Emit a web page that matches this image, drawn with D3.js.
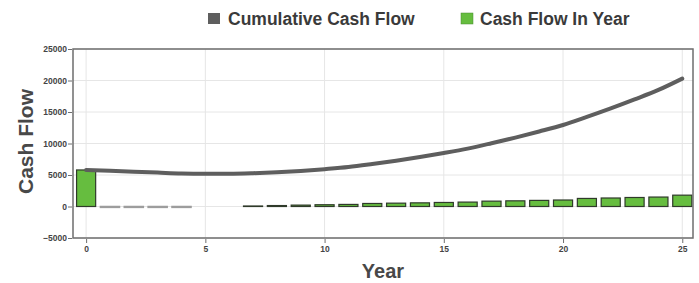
<!DOCTYPE html>
<html>
<head>
<meta charset="utf-8">
<script src="https://cdn.jsdelivr.net/npm/d3@7"></script>
<style>
  body { margin: 0; background: #fff; }
  text { font-family: "Liberation Sans", Arial, sans-serif; }
</style>
</head>
<body>
<div id="chart"></div>
<script>
// values
var years = d3.range(0, 26);
var cashFlow = [5800, -140, -140, -140, -140, -40, 0, 80, 150, 220, 280, 330, 480, 530, 580,
                640, 700, 850, 900, 970, 1030, 1280, 1350, 1430, 1500, 1800];
var cumulative = [5800, 5660, 5520, 5380, 5240, 5200, 5200, 5280, 5430, 5650, 5930, 6260, 6740,
                  7270, 7850, 8490, 9190, 10040, 10940, 11910, 12940, 14220, 15570, 17000, 18500, 20300];
var yTicks = [-5000, 0, 5000, 10000, 15000, 20000, 25000];
var xTicks = [0, 5, 10, 15, 20, 25];
var legendItems = ["Cumulative Cash Flow", "Cash Flow In Year"];

var W = 699, H = 283;
var margin = {left: 73, right: 6, top: 49, bottom: 45};

var svg = d3.select("#chart").append("svg")
    .attr("width", W)
    .attr("height", H);

var x = d3.scaleLinear().domain([-0.55, 25.45]).range([margin.left, W - margin.right]);
var y = d3.scaleLinear().domain([-5000, 25000]).range([H - margin.bottom, margin.top]);

// grid
svg.append("g").selectAll("line.h").data(yTicks).enter().append("line")
    .attr("x1", x.range()[0]).attr("x2", x.range()[1])
    .attr("y1", function(d){ return y(d); }).attr("y2", function(d){ return y(d); })
    .style("stroke", "#e6e6e6").style("stroke-width", 1);
svg.append("g").selectAll("line.v").data(xTicks).enter().append("line")
    .attr("x1", function(d){ return x(d); }).attr("x2", function(d){ return x(d); })
    .attr("y1", y.range()[0]).attr("y2", y.range()[1])
    .style("stroke", "#e6e6e6").style("stroke-width", 1);

// bars
var bw = x(0.4) - x(-0.4);
var bars = years.map(function(yr, i){ return {year: yr, value: cashFlow[i]}; });
svg.append("g").selectAll("rect").data(bars).enter().append("rect")
    .attr("x", function(d){ return x(d.year) - bw / 2; })
    .attr("y", function(d){ return y(Math.max(0, d.value)); })
    .attr("width", bw)
    .attr("height", function(d){ return Math.abs(y(d.value) - y(0)); })
    .style("fill", function(d){ return d.value < 0 ? "#9d9d9d" : "#66bd3f"; })
    .style("stroke", function(d){ return d.value < 0 ? "#9d9d9d" : "#2f3a2a"; })
    .style("stroke-width", function(d){ return d.value < 0 ? 1.5 : 1.2; })
    .style("display", function(d){ return Math.abs(d.value) < 60 ? "none" : null; });

// cumulative line
var line = d3.line()
    .x(function(d, i){ return x(years[i]); })
    .y(function(d){ return y(d); })
    .curve(d3.curveMonotoneX);
svg.append("path")
    .datum(cumulative)
    .attr("d", line)
    .style("fill", "none")
    .style("stroke", "#5e5e5e")
    .style("stroke-width", 4)
    .style("stroke-linecap", "round");

// frame
svg.append("rect")
    .attr("x", x.range()[0]).attr("y", y.range()[1])
    .attr("width", x.range()[1] - x.range()[0])
    .attr("height", y.range()[0] - y.range()[1])
    .style("fill", "none").style("stroke", "#6e6e6e").style("stroke-width", 1.5);

// axes
var yAxis = svg.append("g")
    .attr("transform", "translate(" + (x.range()[0] - 1) + ",0)")
    .call(d3.axisLeft(y).tickValues(yTicks).tickFormat(d3.format("d")).tickSize(4).tickPadding(1));
var xAxis = svg.append("g")
    .attr("transform", "translate(0," + (y.range()[0] + 1) + ")")
    .call(d3.axisBottom(x).tickValues(xTicks).tickFormat(d3.format("d")).tickSize(4).tickPadding(3));
[xAxis, yAxis].forEach(function(a){
    a.select(".domain").remove();
    a.selectAll("line").style("stroke", "#6e6e6e");
    a.selectAll("text").style("font-size", "8.5px").style("font-weight", "bold").style("fill", "#444");
});

// axis titles
svg.append("text")
    .attr("transform", "translate(33," + ((y.range()[0] + y.range()[1]) / 2 - 2) + ") rotate(-90)")
    .attr("text-anchor", "middle")
    .style("font-size", "21px").style("font-weight", "bold").style("fill", "#484848")
    .text("Cash Flow");
svg.append("text")
    .attr("x", (x.range()[0] + x.range()[1]) / 2)
    .attr("y", 278)
    .attr("text-anchor", "middle")
    .style("font-size", "20px").style("font-weight", "bold").style("fill", "#484848")
    .text("Year");

// legend
var legendX = [208, 461];
var legendColor = ["#5e5e5e", "#66bd3f"];
var lg = svg.append("g").selectAll("g").data(legendItems).enter().append("g")
    .attr("transform", function(d, i){ return "translate(" + legendX[i] + ",0)"; });
lg.append("rect")
    .attr("x", 0).attr("y", 13).attr("width", 12).attr("height", 11)
    .style("fill", function(d, i){ return legendColor[i]; })
    .style("stroke", function(d, i){ return i == 1 ? "#4a8a30" : "none"; })
    .style("stroke-width", 0.5);
lg.append("text")
    .attr("x", function(d, i){ return i == 0 ? 20 : 19; }).attr("y", 25)
    .style("font-size", "17.5px").style("font-weight", "bold").style("fill", "#3a3a3a")
    .text(function(d){ return d; });
</script>
</body>
</html>
